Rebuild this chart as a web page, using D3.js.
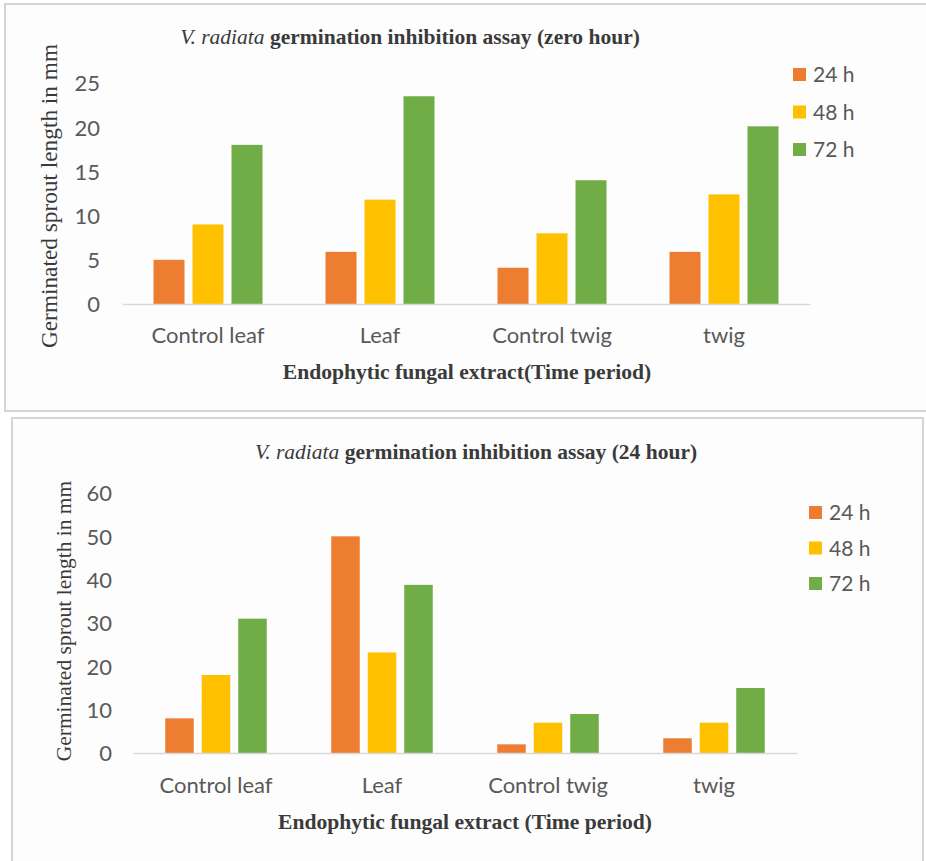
<!DOCTYPE html>
<html><head><meta charset="utf-8">
<script src="https://cdn.jsdelivr.net/npm/d3@7"></script>
<style>body{margin:0;background:#fff}svg{display:block}</style>
</head><body>
<script>
const categories = ["Control leaf", "Leaf", "Control twig", "twig"];
const seriesNames = ["24 h", "48 h", "72 h"];
const colors = ["#ED7D31", "#FFC000", "#70AD47"];
// zero hour panel
const zero24 = [5, 5.9, 4.1, 5.9];
const zero48 = [9, 11.8, 8, 12.4];
const zero72 = [18, 23.5, 14, 20.1];
const zeroTicks = [0, 5, 10, 15, 20, 25];
// 24 hour panel
const h24_24 = [8, 50, 2, 3.4];
const h24_48 = [18, 23.2, 7, 7];
const h24_72 = [31, 38.8, 9, 15];
const h24Ticks = [0, 10, 20, 30, 40, 50, 60];

const svg = d3.select("body").append("svg").attr("width", 926).attr("height", 861);
svg.append("rect").attr("width", 926).attr("height", 861).attr("fill", "#fff");

const SANS = "Lato, 'Open Sans', sans-serif";
const SERIF = "'Liberation Serif', 'Times New Roman', serif";

function panel(o) {
  const g = svg.append("g");
  g.append("rect").attr("x", o.frame[0]).attr("y", o.frame[1]).attr("width", o.frame[2]).attr("height", o.frame[3])
    .attr("fill", "#fdfdfd").attr("stroke", "#d4d4d4").attr("stroke-width", 2);
  const x = d3.scaleBand().domain(categories).range([o.x0, o.x1]);
  const y = d3.scaleLinear().domain([0, o.ticks[o.ticks.length - 1]]).range([o.y0, o.yTop]);
  const xs = d3.scaleBand().domain(seriesNames).range([-o.step * 1.5, o.step * 1.5]);
  // y tick labels
  const ya = d3.axisLeft(y).tickValues(o.ticks).tickSize(0).tickPadding(0);
  const yg = g.append("g").attr("transform", `translate(${o.tickX},0)`).call(ya);
  yg.select(".domain").remove();
  yg.selectAll("text").attr("fill", "#595959").attr("dy", "0.36em").style("font-family", SANS).style("font-size", "22px");
  // bars
  o.series.forEach((vals, si) => {
    g.selectAll(null).data(vals).join("rect")
      .attr("x", (d, i) => x(categories[i]) + x.bandwidth() / 2 + xs(seriesNames[si]) + (o.step - o.bw) / 2)
      .attr("y", d => y(d)).attr("width", o.bw).attr("height", d => y(0) - y(d))
      .attr("fill", colors[si]);
  });
  // x axis
  const xa = d3.axisBottom(x).tickSize(0).tickPadding(0);
  const xg = g.append("g").attr("transform", `translate(0,${o.y0})`).call(xa);
  xg.select(".domain").attr("stroke", "#d9d9d9").attr("stroke-width", 1.5);
  xg.selectAll("text").attr("fill", "#595959").attr("y", o.catBase).attr("dy", 0)
    .style("font-family", SANS).style("font-size", "22px");
  // title
  const t = g.append("text").attr("x", o.titleX).attr("y", o.titleY).attr("text-anchor", "middle")
    .style("font-family", SERIF).style("font-size", "21.5px").attr("fill", "#3a3a3a");
  t.append("tspan").style("font-style", "italic").text("V. radiata");
  t.append("tspan").style("font-weight", "bold").text(" germination inhibition assay " + o.titleTail);
  // axis titles
  g.append("text").attr("x", o.xtX).attr("y", o.xtY).attr("text-anchor", "middle")
    .style("font-family", SERIF).style("font-size", "21.6px").style("font-weight", "bold").attr("fill", "#3a3a3a")
    .text(o.xTitle);
  g.append("text").attr("transform", `translate(${o.ytX},${o.ytY}) rotate(-90)`).attr("text-anchor", "middle")
    .style("font-family", SERIF).style("font-size", o.ytSize + "px").attr("fill", "#3a3a3a")
    .text("Germinated sprout length in mm");
  // legend
  seriesNames.forEach((s, i) => {
    const ly = o.legY + i * o.legStep;
    g.append("rect").attr("x", o.legX).attr("y", ly).attr("width", 13).attr("height", 13).attr("fill", colors[i]);
    g.append("text").attr("x", o.legX + 20).attr("y", ly + 14).attr("fill", "#595959")
      .style("font-family", SANS).style("font-size", "21px").text(s);
  });
}

panel({frame: [5, 4, 930, 407], x0: 122, x1: 810, y0: 304, yTop: 83, ticks: zeroTicks, tickX: 100,
  step: 39, bw: 31, series: [zero24, zero48, zero72], catBase: 39,
  titleX: 410, titleY: 44, titleTail: "(zero hour)",
  xtX: 467, xtY: 379, xTitle: "Endophytic fungal extract(Time period)",
  ytX: 57, ytY: 196, ytSize: 23.3, legX: 793, legY: 68, legStep: 37.5});

panel({frame: [12, 418, 911, 450], x0: 133, x1: 797, y0: 753, yTop: 493, ticks: h24Ticks, tickX: 112,
  step: 36.5, bw: 28.5, series: [h24_24, h24_48, h24_72], catBase: 40,
  titleX: 476, titleY: 459, titleTail: "(24 hour)",
  xtX: 465, xtY: 829, xTitle: "Endophytic fungal extract (Time period)",
  ytX: 71, ytY: 621, ytSize: 21.5, legX: 809, legY: 506, legStep: 35.5});
</script>
</body></html>
